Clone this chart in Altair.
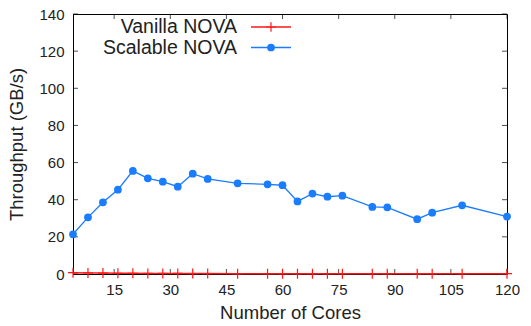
import altair as alt
import pandas as pd

cores = [4, 8, 12, 16, 20, 24, 28, 32, 36, 40, 48, 56, 60, 64, 68, 72, 76, 84, 88, 96, 100, 108, 120]
scalable = [21.4, 30.5, 38.6, 45.4, 55.5, 51.5, 49.7, 47.0, 54.0, 51.2, 48.8, 48.3, 47.8, 39.1, 43.3,
            41.6, 42.2, 36.1, 35.9, 29.5, 33.0, 37.0, 30.9]
vanilla = [0.7, 0.6, 0.5, 0.4, 0.35, 0.3, 0.3, 0.3, 0.25, 0.25, 0.2, 0.2, 0.2, 0.2, 0.2,
           0.2, 0.2, 0.2, 0.2, 0.2, 0.2, 0.2, 0.2]
x_ticks = [15, 30, 45, 60, 75, 90, 105, 120]
y_ticks = [0, 20, 40, 60, 80, 100, 120, 140]
series_names = ["Vanilla NOVA", "Scalable NOVA"]

W, H = 434, 260
FONT = "Liberation Sans"
RED = "#ff1a1a"
BLUE = "#1a7cff"

df_s = pd.DataFrame({"cores": cores, "tput": scalable})
df_v = pd.DataFrame({"cores": cores, "tput": vanilla})

xscale = alt.Scale(domain=[4, 120], nice=False, zero=False)
yscale = alt.Scale(domain=[0, 140], nice=False)

xaxis = alt.Axis(values=x_ticks, title="Number of Cores", grid=False, tickSize=0,
                 labelPadding=8, labelFontSize=15, titleFontSize=18.5,
                 labelFont=FONT, titleFont=FONT, labelColor="#222", titleColor="#222",
                 titleFontWeight="normal", domainColor="black", titlePadding=6,
                 labelFlush=False, labelOverlap=False)
yaxis = alt.Axis(values=y_ticks, title="Throughput (GB/s)", grid=False, tickSize=0,
                 labelPadding=9, labelFontSize=15, titleFontSize=18.5,
                 labelFont=FONT, titleFont=FONT, labelColor="#222", titleColor="#222",
                 titleFontWeight="normal", domainColor="black", titlePadding=12,
                 labelFlush=False, labelOverlap=False)


def X(field):
    return alt.X(field, scale=xscale, axis=xaxis)


def Y(field):
    return alt.Y(field, scale=yscale, axis=yaxis)


blue_line = alt.Chart(df_s).mark_line(color=BLUE, strokeWidth=1.3).encode(x=X("cores:Q"), y=Y("tput:Q"))
blue_pts = alt.Chart(df_s).mark_point(filled=True, color=BLUE, size=60, opacity=1, shape="circle").encode(
    x=X("cores:Q"), y=Y("tput:Q"))
red_line = alt.Chart(df_v).mark_line(color=RED, strokeWidth=1.5).encode(x=X("cores:Q"), y=Y("tput:Q"))
cross = "M-1,0L1,0M0,-1L0,1"
red_pts = alt.Chart(df_v).mark_point(shape=cross, color=RED, size=100, strokeWidth=1.2, filled=False,
                                     opacity=1).encode(x=X("cores:Q"), y=Y("tput:Q"))

# inward tick marks on all four sides
dxt = pd.DataFrame({"t": x_ticks})
dyt = pd.DataFrame({"t": y_ticks})
xt_bottom = alt.Chart(dxt).mark_tick(orient="vertical", color="black", size=5, thickness=1).encode(
    x=X("t:Q"), y=alt.value(H - 2.5))
xt_top = alt.Chart(dxt).mark_tick(orient="vertical", color="black", size=5, thickness=1).encode(
    x=X("t:Q"), y=alt.value(2.5))
yt_left = alt.Chart(dyt).mark_tick(orient="horizontal", color="black", size=5, thickness=1).encode(
    y=Y("t:Q"), x=alt.value(2.5))
yt_right = alt.Chart(dyt).mark_tick(orient="horizontal", color="black", size=5, thickness=1).encode(
    y=Y("t:Q"), x=alt.value(W - 2.5))

# gnuplot-style key (label left of sample)
leg = pd.DataFrame({"name": series_names})
leg_v = leg[leg.name == series_names[0]]
leg_s = leg[leg.name == series_names[1]]
lt1 = alt.Chart(leg_v).mark_text(align="right", baseline="middle", fontSize=19.5, font=FONT,
                                 color="#222").encode(text="name:N", x=alt.value(164), y=alt.value(13))
lt2 = alt.Chart(leg_s).mark_text(align="right", baseline="middle", fontSize=19.5, font=FONT,
                                 color="#222").encode(text="name:N", x=alt.value(164), y=alt.value(34))
lr1 = alt.Chart(leg_v).mark_rule(color=RED, strokeWidth=1.5).encode(
    x=alt.value(178), x2=alt.value(218), y=alt.value(13))
lr2 = alt.Chart(leg_s).mark_rule(color=BLUE, strokeWidth=1.3).encode(
    x=alt.value(178), x2=alt.value(218), y=alt.value(33.5))
lp1 = alt.Chart(leg_v).mark_point(shape=cross, color=RED, size=90, strokeWidth=1.2, filled=False,
                                  opacity=1).encode(x=alt.value(198), y=alt.value(13))
lp2 = alt.Chart(leg_s).mark_point(filled=True, color=BLUE, size=60, opacity=1).encode(
    x=alt.value(198), y=alt.value(33.5))

chart = alt.layer(
    blue_line, xt_bottom, xt_top, yt_left, yt_right,
    red_line, red_pts, blue_pts,
    lt1, lt2, lr1, lr2, lp1, lp2,
).properties(
    width=W, height=H,
    autosize=alt.AutoSizeParams(type="none"),
    padding={"left": 73, "top": 14, "right": 24, "bottom": 52},
    background="white",
).configure_view(stroke="black", strokeWidth=1)

chart.save("out.html", embed_options={"renderer": "svg", "actions": False})
